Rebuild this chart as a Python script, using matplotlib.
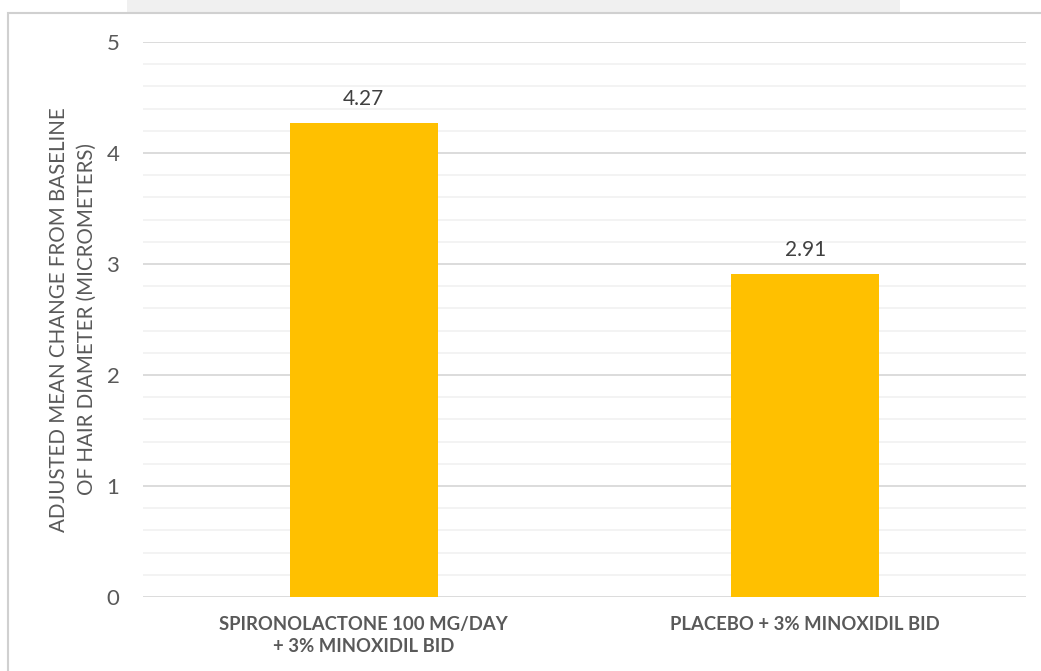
import matplotlib
matplotlib.use("Agg")
import matplotlib.pyplot as plt
from matplotlib.patches import Rectangle
from matplotlib.ticker import MultipleLocator

categories = ["SPIRONOLACTONE 100 MG/DAY\n+ 3% MINOXIDIL BID", "PLACEBO + 3% MINOXIDIL BID"]
values = [4.27, 2.91]
value_labels = ["4.27", "2.91"]
y_label = "ADJUSTED MEAN CHANGE FROM BASELINE\nOF HAIR DIAMETER (MICROMETERS)"

plt.rcParams['font.family'] = ['Lato', 'DejaVu Sans']
W, H = 1041, 671
fig = plt.figure(figsize=(W / 100, H / 100), dpi=100)
fig.patch.set_facecolor("white")

# faint strip at the very top and chart border
fig.add_artist(Rectangle((127 / W, 1 - 12 / H), (900 - 127) / W, 12 / H,
                         transform=fig.transFigure, facecolor="#f0f0f0", edgecolor="none", zorder=-2))
fig.add_artist(Rectangle((8 / W, -0.05), 1.1, 1 - 13 / H + 0.05,
                         transform=fig.transFigure, facecolor="white", edgecolor="#d0d0d0", lw=1.5, zorder=-1))

ax = fig.add_axes([143 / W, 1 - 597 / H, (1026 - 143) / W, (597 - 42) / H])
ax.set_zorder(2)
ax.set_facecolor("none")
x = list(range(len(categories)))
bars = ax.bar(x, values, width=0.335, color="#FFC000", zorder=3)
for xi, v, lab in zip(x, values, value_labels):
    ax.text(xi, v + 0.13, lab, ha="center", va="bottom", fontsize=15, color="#404040")

ax.set_xlim(-0.5, 1.5)
ax.set_ylim(0, 5)
ax.yaxis.set_major_locator(MultipleLocator(1))
ax.yaxis.set_minor_locator(MultipleLocator(0.2))
ax.grid(which="major", axis="y", color="#d9d9d9", lw=1.3, zorder=0)
ax.grid(which="minor", axis="y", color="#f2f2f2", lw=1.3, zorder=0)
for s in ax.spines.values():
    s.set_visible(False)
ax.tick_params(axis="both", which="both", length=0)
ax.tick_params(axis="y", labelsize=16, labelcolor="#595959", pad=17)
ax.set_xticks(x)
ax.set_xticklabels(categories, fontsize=13.3, fontweight="bold", color="#595959", linespacing=1.35)
ax.tick_params(axis="x", pad=14)
ax.set_ylabel(y_label, fontsize=14.8, color="#595959", labelpad=7, linespacing=1.5)

fig.savefig("out.png", dpi=100)
